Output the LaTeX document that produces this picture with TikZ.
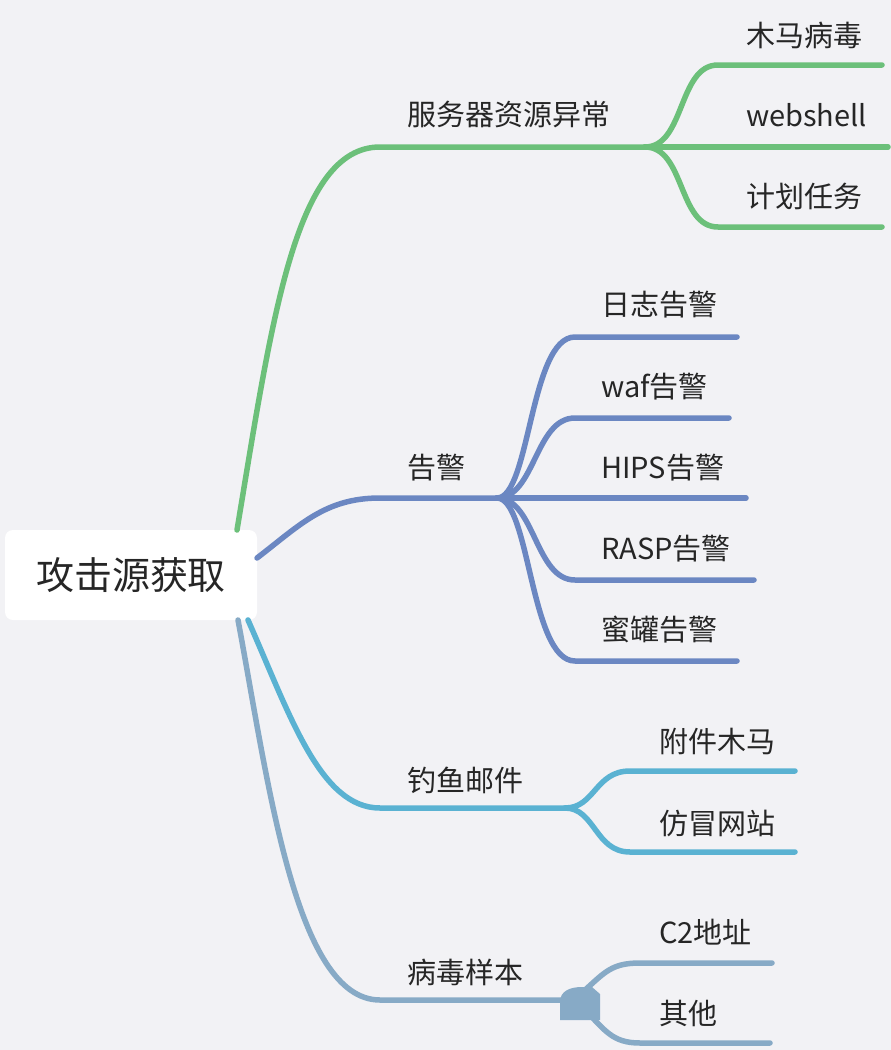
\documentclass[tikz,border=0pt]{standalone}
\usepackage{fontspec}
\setmainfont{Noto Sans CJK SC}
\definecolor{bg}{RGB}{242,242,245}
\definecolor{cgreen}{RGB}{108,192,122}
\definecolor{cblue}{RGB}{107,135,194}
\definecolor{ccyan}{RGB}{90,178,210}
\definecolor{cgray}{RGB}{135,170,198}
\definecolor{txt}{RGB}{38,38,38}
\tikzset{
  lbl/.style={anchor=west, inner sep=0pt, text=txt, font=\fontsize{29}{32}\selectfont},
  br/.style={line width=5.5pt, line cap=round},
}
\begin{document}
\begin{tikzpicture}[x=1pt,y=-1pt]
\fill[bg] (0,0) rectangle (891,1050);
\useasboundingbox (0,0) rectangle (891,1050);

% root
\node[fill=white, rounded corners=8pt, minimum width=252pt, minimum height=90pt, inner sep=0pt,
      text=txt, font=\fontsize{38}{41}\selectfont] (root) at (131,575) {攻击源获取};

% ---------- green branch
\coordinate (g0) at (237,530);
\coordinate (g1) at (380,147);
\coordinate (gj) at (645,147);
\coordinate (ga) at (718,65);  \coordinate (gae) at (882,65);
\coordinate (gb) at (888,147);
\coordinate (gc) at (718,227); \coordinate (gce) at (882,227);
\node[lbl] (n1) at (407,115) {服务器资源异常};
\node[lbl] (n11) at (746,35) {木马病毒};
\node[lbl] (n12) at (746,115) {webshell};
\node[lbl] (n13) at (746,196) {计划任务};
\draw[br, cgreen] (g0) .. controls (272,320) and (295,147) .. (g1) -- (gj);
\draw[br, cgreen] (gj) .. controls (685,147) and (678,65) .. (ga) -- (gae);
\draw[br, cgreen] (gj) -- (gb);
\draw[br, cgreen] (gj) .. controls (685,147) and (678,227) .. (gc) -- (gce);

% ---------- blue branch
\coordinate (b0) at (257,558);
\coordinate (b1) at (380,498);
\coordinate (bj) at (497,498);
\coordinate (ba) at (575,337); \coordinate (bae) at (737,337);
\coordinate (bb) at (575,418); \coordinate (bbe) at (729,418);
\coordinate (bc) at (746,498);
\coordinate (bd) at (575,580); \coordinate (bde) at (754,580);
\coordinate (be) at (575,661); \coordinate (bee) at (737,661);
\node[lbl] (n2) at (407,468) {告警};
\node[lbl] (n21) at (601,305) {日志告警};
\node[lbl] (n22) at (601,387) {waf告警};
\node[lbl] (n23) at (601,468) {HIPS告警};
\node[lbl] (n24) at (601,549) {RASP告警};
\node[lbl] (n25) at (601,630) {蜜罐告警};
\draw[br, cblue] (b0) .. controls (300,525) and (325,498) .. (b1) -- (bj);
\draw[br, cblue] (bj) .. controls (530,498) and (530,337) .. (ba) -- (bae);
\draw[br, cblue] (bj) .. controls (535,498) and (535,418) .. (bb) -- (bbe);
\draw[br, cblue] (bj) -- (bc);
\draw[br, cblue] (bj) .. controls (535,498) and (535,580) .. (bd) -- (bde);
\draw[br, cblue] (bj) .. controls (530,498) and (530,661) .. (be) -- (bee);

% ---------- cyan branch
\coordinate (c0) at (248,620);
\coordinate (c1) at (380,808);
\coordinate (cj) at (565,808);
\coordinate (ca) at (630,771); \coordinate (cae) at (795,771);
\coordinate (cb) at (630,852); \coordinate (cbe) at (795,852);
\node[lbl] (n3) at (407,780) {钓鱼邮件};
\node[lbl] (n31) at (659,741) {附件木马};
\node[lbl] (n32) at (659,823) {仿冒网站};
\draw[br, ccyan] (c0) .. controls (290,715) and (320,808) .. (c1) -- (cj);
\draw[br, ccyan] (cj) .. controls (595,808) and (595,771) .. (ca) -- (cae);
\draw[br, ccyan] (cj) .. controls (595,808) and (595,852) .. (cb) -- (cbe);

% ---------- gray branch
\coordinate (d0) at (238,620);
\coordinate (d1) at (380,1000);
\coordinate (dj) at (565,1000);
\coordinate (da) at (640,963); \coordinate (dae) at (772,963);
\coordinate (db) at (640,1043); \coordinate (dbe) at (770,1043);
\node[lbl] (n4) at (407,972) {病毒样本};
\node[lbl] (n41) at (659,932) {C2地址};
\node[lbl] (n42) at (659,1013) {其他};
\draw[br, cgray] (d0) .. controls (268,780) and (295,1000) .. (d1) -- (dj);
\draw[br, cgray] (dj) ++(20,-10) .. controls (605,972) and (612,963) .. (da) -- (dae);
\draw[br, cgray] (dj) ++(20,10) .. controls (605,1030) and (612,1043) .. (db) -- (dbe);
\fill[cgray] (560,1020) -- (560,1002) .. controls (560,991) and (570,987) .. (582,987)
  -- (592,987) -- (600,994) -- (600,1020) -- cycle;
\end{tikzpicture}
\end{document}
